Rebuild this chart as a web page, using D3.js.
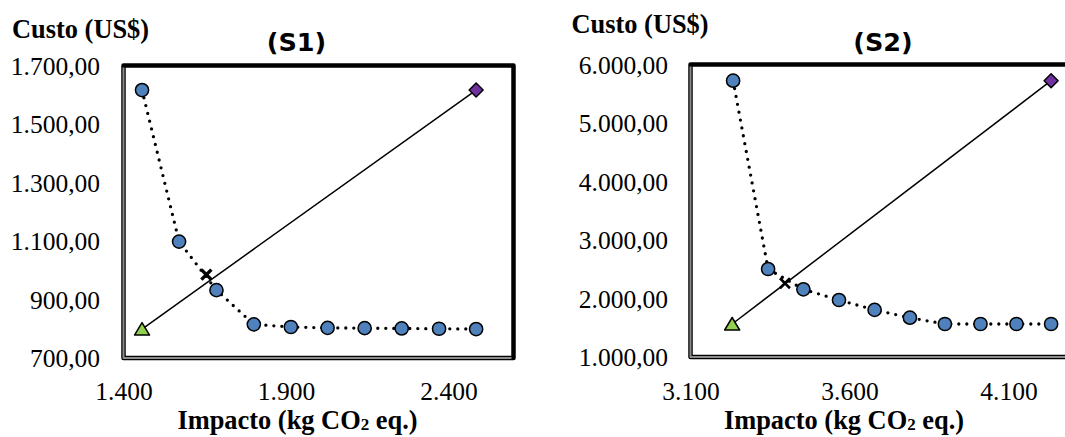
<!DOCTYPE html>
<html>
<head>
<meta charset="utf-8">
<script src="https://cdn.jsdelivr.net/npm/d3@7/dist/d3.min.js"></script>
<style>
  html, body { margin: 0; padding: 0; background: #ffffff; }
  svg { display: block; }
  .serif { font-family: "Liberation Serif", "Times New Roman", serif; }
  .sansb { font-family: "DejaVu Sans", Verdana, sans-serif; font-weight: bold; }
</style>
</head>
<body>
<svg id="chart" width="1065" height="437"></svg>
<script>
// ---- Scenario S1 ----
const s1Impact = [1457, 1571, 1686, 1801, 1915, 2028, 2142, 2256, 2371, 2485];
const s1Cost   = [1616, 1098, 932, 815, 806, 803, 802, 801, 800, 799];
const s1Utopia = [1457, 799];   // min impact, min cost
const s1Nadir  = [2485, 1616];  // max impact, max cost
const s1Chosen = [1655, 985];   // compromise solution
const s1XTicks = [1400, 1900, 2400];
const s1YTicks = [700, 900, 1100, 1300, 1500, 1700];

// ---- Scenario S2 ----
const s2Impact = [3234, 3344, 3455, 3567, 3679, 3790, 3900, 4012, 4125, 4234];
const s2Cost   = [5723, 2504, 2157, 1974, 1805, 1672, 1564, 1564, 1564, 1564];
const s2Utopia = [3231, 1564];
const s2Nadir  = [4234, 5723];
const s2Chosen = [3397, 2260];
const s2XTicks = [3100, 3600, 4100];
const s2YTicks = [1000, 2000, 3000, 4000, 5000, 6000];

const ptBR = d3.formatLocale({ decimal: ",", thousands: ".", grouping: [3], currency: ["US$", ""] });
const fmtCost = ptBR.format(",.2f");
const fmtImpact = ptBR.format(",.0f");

const svg = d3.select("#chart");
svg.append("rect").attr("width", 1065).attr("height", 437).attr("fill", "#ffffff");

function panel(opt) {
  const g = svg.append("g");
  const x = d3.scaleLinear().domain(opt.xDomain).range(opt.xRange);
  const y = d3.scaleLinear().domain(opt.yDomain).range(opt.yRange);

  // plot frame: thick black on top/right, black-grey-black on left/bottom
  const x0 = opt.xRange[0], y0 = opt.yRange[1], y1 = opt.yRange[0];
  const x1 = opt.frameRight;
  g.append("path")
    .attr("d", `M${x0},${y1} L${x0},${y0} L${x1},${y0} L${x1},${y1} Z`)
    .attr("fill", "none").attr("stroke", "#000").attr("stroke-width", 4.5)
    .attr("stroke-linejoin", "round");
  g.append("path")
    .attr("d", `M${x0},${y0 + 2} L${x0},${y1} L${x1 - 2},${y1}`)
    .attr("fill", "none").attr("stroke", "#8c8c8c").attr("stroke-width", 2)
    .attr("stroke-linejoin", "round");

  // axes
  const yAxis = d3.axisLeft(y).tickValues(opt.yTicks).tickSize(0).tickPadding(opt.yPad).tickFormat(fmtCost);
  const ya = g.append("g").attr("transform", `translate(${x0},0)`).call(yAxis)
    .attr("font-family", null).attr("font-size", null).attr("class", "serif");
  ya.select(".domain").remove();
  ya.selectAll("text").attr("dy", null).attr("dominant-baseline", "central")
    .style("font-size", "25.5px").attr("fill", "#000");

  const xAxis = d3.axisBottom(x).tickValues(opt.xTicks).tickSize(0).tickPadding(0).tickFormat(fmtImpact);
  const xa = g.append("g").attr("transform", `translate(0,${opt.xLabelBaseline})`).call(xAxis)
    .attr("font-family", null).attr("font-size", null).attr("class", "serif");
  xa.select(".domain").remove();
  xa.selectAll("text").attr("dy", null).attr("y", 0)
    .style("font-size", "25.5px").attr("fill", "#000");

  // line between utopia and nadir points
  g.append("line")
    .attr("x1", x(opt.utopia[0])).attr("y1", y(opt.utopia[1]))
    .attr("x2", x(opt.nadir[0])).attr("y2", y(opt.nadir[1]))
    .attr("stroke", "#000").attr("stroke-width", 1.5);

  // Pareto front (dotted)
  const pts = opt.impact.map((v, i) => [v, opt.cost[i]]);
  g.append("path")
    .attr("d", d3.line().x(d => x(d[0])).y(d => y(d[1]))(pts))
    .attr("fill", "none").attr("stroke", "#000").attr("stroke-width", 3.3)
    .attr("stroke-linecap", "round").attr("stroke-dasharray", "0 8");

  // chosen solution marker (x)
  const cx = x(opt.chosen[0]), cy = y(opt.chosen[1]), s = 5;
  g.append("path")
    .attr("d", `M${cx - s},${cy - s} L${cx + s},${cy + s} M${cx - s},${cy + s} L${cx + s},${cy - s}`)
    .attr("stroke", "#000").attr("stroke-width", opt.crossWidth);

  // front points
  g.selectAll("circle.pt").data(pts).enter().append("circle")
    .attr("class", "pt")
    .attr("cx", d => x(d[0])).attr("cy", d => y(d[1])).attr("r", 6.6)
    .attr("fill", "#4F81BD").attr("stroke", "#000").attr("stroke-width", 1.5);

  // utopia (triangle) and nadir (diamond)
  g.append("path")
    .attr("d", "M0,-6.5 L7.5,6 L-7.5,6 Z")
    .attr("transform", `translate(${x(opt.utopia[0])},${y(opt.utopia[1])})`)
    .attr("fill", "#92D050").attr("stroke", "#000").attr("stroke-width", 1.5)
    .attr("stroke-linejoin", "round");
  g.append("path")
    .attr("d", "M0,-7 L7,0 L0,7 L-7,0 Z")
    .attr("transform", `translate(${x(opt.nadir[0])},${y(opt.nadir[1])})`)
    .attr("fill", "#7030A0").attr("stroke", "#000").attr("stroke-width", 1.5)
    .attr("stroke-linejoin", "round");

  // texts
  g.append("text").attr("class", "sansb").attr("x", opt.titleX).attr("y", 51).attr("text-anchor", "middle")
    .style("font-size", "25.5px").text(opt.title);

  g.append("text").attr("class", "serif").attr("x", opt.yTitleX).attr("y", opt.yTitleY)
    .style("font-weight", "bold").style("font-size", "26.4px").text("Custo (US$)");

  const xt = g.append("text").attr("class", "serif").attr("x", opt.xTitleX).attr("y", 429).attr("text-anchor", "middle")
    .style("font-weight", "bold").style("font-size", "26.4px");
  xt.append("tspan").text("Impacto (kg CO");
  xt.append("tspan").style("font-size", "17px").attr("dy", 1).text("2");
  xt.append("tspan").attr("dy", -1).text(" eq.)");
}

panel({
  impact: s1Impact, cost: s1Cost, utopia: s1Utopia, nadir: s1Nadir, chosen: s1Chosen,
  xTicks: s1XTicks, yTicks: s1YTicks,
  xDomain: [1400, 2600], xRange: [123.5, 513.5], frameRight: 513.5,
  yDomain: [700, 1700], yRange: [358, 65.5],
  yPad: 23.5, xLabelBaseline: 400, crossWidth: 3.4,
  title: "(S1)", titleX: 296.5, yTitleX: 12, yTitleY: 38, xTitleX: 297.5
});

panel({
  impact: s2Impact, cost: s2Cost, utopia: s2Utopia, nadir: s2Nadir, chosen: s2Chosen,
  xTicks: s2XTicks, yTicks: s2YTicks,
  xDomain: [3100, 4600], xRange: [690.5, 1167.5], frameRight: 1167.5,
  yDomain: [1000, 6000], yRange: [357, 64.5],
  yPad: 22.5, xLabelBaseline: 400, crossWidth: 2.6,
  title: "(S2)", titleX: 883, yTitleX: 571.5, yTitleY: 32.5, xTitleX: 844
});
</script>
</body>
</html>
